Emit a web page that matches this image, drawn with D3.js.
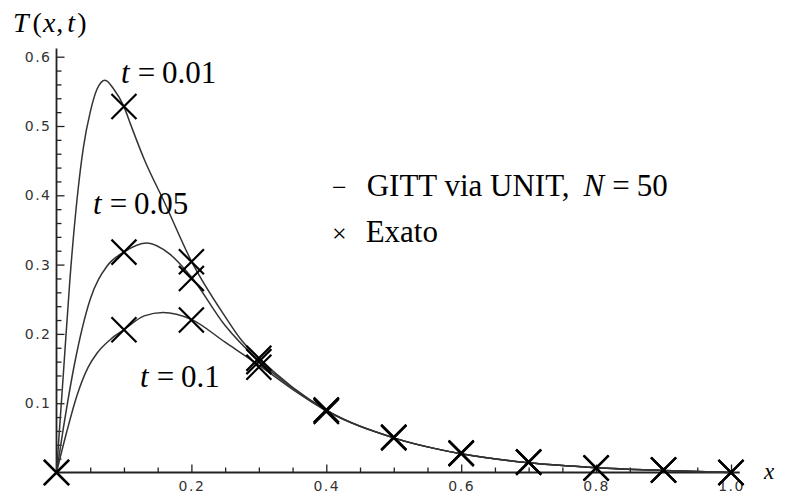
<!DOCTYPE html>
<html>
<head>
<meta charset="utf-8">
<script src="https://cdn.jsdelivr.net/npm/d3@7"></script>
<style>
body { margin: 0; background: #fff; }
.tick text { font-family: "DejaVu Sans", sans-serif; font-size: 14px; fill: #333; letter-spacing: 1.5px; }
.serif { font-family: "Liberation Serif", "Times New Roman", serif; fill: #000; }
</style>
</head>
<body>
<div id="chart"></div>
<script>
const width = 791,
    height = 500

// curves from GITT via UNIT (N = 50)
var curveX001 = [0, 0.01, 0.02, 0.03, 0.04, 0.05, 0.06, 0.072, 0.085, 0.1, 0.11, 0.13, 0.16, 0.2, 0.25, 0.275, 0.3, 0.35, 0.4, 0.5, 0.6, 0.7, 0.8, 0.9, 1.0]
var curveT001 = [0, 0.14, 0.28, 0.39, 0.47, 0.52, 0.553, 0.566, 0.553, 0.528, 0.502, 0.452, 0.39, 0.305, 0.225, 0.19, 0.165, 0.123, 0.09, 0.05, 0.027, 0.014, 0.007, 0.003, 0]

var curveX005 = [0, 0.01, 0.027, 0.05, 0.075, 0.1, 0.134, 0.168, 0.2, 0.25, 0.3, 0.35, 0.4, 0.5, 0.6, 0.7, 0.8, 0.9, 1.0]
var curveT005 = [0, 0.063, 0.158, 0.25, 0.298, 0.318, 0.331, 0.315, 0.282, 0.212, 0.161, 0.122, 0.09, 0.05, 0.027, 0.014, 0.007, 0.003, 0]

var curveX01 = [0, 0.015, 0.03, 0.047, 0.06, 0.08, 0.1, 0.13, 0.158, 0.2, 0.25, 0.3, 0.35, 0.4, 0.5, 0.6, 0.7, 0.8, 0.9, 1.0]
var curveT01 = [0, 0.058, 0.11, 0.152, 0.172, 0.192, 0.206, 0.226, 0.231, 0.221, 0.188, 0.155, 0.12, 0.089, 0.05, 0.027, 0.014, 0.007, 0.003, 0]

// exact solution at x = 0, 0.1, ..., 1.0
var exactX = [0, 0.1, 0.2, 0.3, 0.4, 0.5, 0.6, 0.7, 0.8, 0.9, 1.0]
var exactT001 = [0, 0.528, 0.304, 0.165, 0.09, 0.051, 0.028, 0.015, 0.0065, 0.0035, 0]
var exactT005 = [0, 0.318, 0.28, 0.16, 0.09, 0.051, 0.028, 0.015, 0.0065, 0.0035, 0]
var exactT01 = [0, 0.206, 0.22, 0.152, 0.088, 0.05, 0.027, 0.015, 0.0065, 0.0035, 0]

var xMajor = [0.2, 0.4, 0.6, 0.8, 1.0]
var xTickLabels = ["0.2", "0.4", "0.6", "0.8", "1.0"]
var yMajor = [0.1, 0.2, 0.3, 0.4, 0.5, 0.6]
var yTickLabels = ["0.1", "0.2", "0.3", "0.4", "0.5", "0.6"]

var svg = d3.select("#chart")
    .append("svg")
    .attr("width", width)
    .attr("height", height)

var x = d3.scaleLinear().domain([0, 1]).range([56.5, 731])
var y = d3.scaleLinear().domain([0, 0.6]).range([472.5, 56.7])

// minor ticks
var xMinor = d3.range(1, 21).map(i => i * 0.05).filter(v => xMajor.every(m => Math.abs(m - v) > 1e-6))
var yMinor = d3.range(1, 31).map(i => i * 0.02).filter(v => yMajor.every(m => Math.abs(m - v) > 1e-6))

svg.append("g")
    .attr("transform", `translate(0,${y(0)})`)
    .call(d3.axisBottom(x).tickValues(xMinor).tickSizeInner(-5).tickSizeOuter(0).tickFormat(""))
    .call(g => g.select(".domain").remove())
    .call(g => g.selectAll("line").attr("stroke", "#222").attr("stroke-width", 1.3))

svg.append("g")
    .attr("transform", `translate(0,${y(0)})`)
    .call(d3.axisBottom(x).tickValues(xMajor).tickSizeInner(-8).tickSizeOuter(0).tickPadding(9)
        .tickFormat((d, i) => xTickLabels[i]))
    .call(g => g.select(".domain").remove())
    .call(g => g.selectAll("line").attr("stroke", "#222").attr("stroke-width", 1.3))

svg.append("g")
    .attr("transform", `translate(${x(0)},0)`)
    .call(d3.axisLeft(y).tickValues(yMinor).tickSizeInner(-5).tickSizeOuter(0).tickFormat(""))
    .call(g => g.select(".domain").remove())
    .call(g => g.selectAll("line").attr("stroke", "#222").attr("stroke-width", 1.3))

svg.append("g")
    .attr("transform", `translate(${x(0)},0)`)
    .call(d3.axisLeft(y).tickValues(yMajor).tickSizeInner(-8).tickSizeOuter(0).tickPadding(5)
        .tickFormat((d, i) => yTickLabels[i]))
    .call(g => g.select(".domain").remove())
    .call(g => g.selectAll("line").attr("stroke", "#222").attr("stroke-width", 1.3))

// axis lines
svg.append("line")
    .attr("x1", x(0)).attr("x2", x(1.013))
    .attr("y1", y(0)).attr("y2", y(0))
    .attr("stroke", "#222").attr("stroke-width", 1.8)
svg.append("line")
    .attr("x1", x(0)).attr("x2", x(0))
    .attr("y1", y(0)).attr("y2", y(0.612))
    .attr("stroke", "#222").attr("stroke-width", 1.8)

// curves
var line = d3.line()
    .x(d => x(d[0]))
    .y(d => y(d[1]))
    .curve(d3.curveMonotoneX)

var curves = [
    d3.zip(curveX001, curveT001),
    d3.zip(curveX005, curveT005),
    d3.zip(curveX01, curveT01)
]

svg.append("g")
    .selectAll("path")
    .data(curves)
    .enter()
    .append("path")
    .attr("d", line)
    .attr("fill", "none")
    .attr("stroke", "#333")
    .attr("stroke-width", 1.5)

// exact markers
var exact = [exactT001, exactT005, exactT01]
    .flatMap(vals => vals.map((v, i) => [exactX[i], v]))

svg.append("g")
    .selectAll("path")
    .data(exact)
    .enter()
    .append("path")
    .attr("transform", d => `translate(${x(d[0])},${y(d[1])})`)
    .attr("d", "M-12.5,-12.5L12.5,12.5M-12.5,12.5L12.5,-12.5")
    .attr("stroke", "#000")
    .attr("stroke-width", 2.2)

// axis titles
var tl = svg.append("text").attr("class", "serif").attr("x", 13).attr("y", 32).attr("font-size", 28)
tl.append("tspan").attr("font-style", "italic").text("T")
tl.append("tspan").attr("dx", 4).text("(")
tl.append("tspan").attr("dx", 1).attr("font-style", "italic").text("x")
tl.append("tspan").attr("dx", 1).text(",")
tl.append("tspan").attr("dx", 4).attr("font-style", "italic").text("t")
tl.append("tspan").attr("dx", 2).text(")")

svg.append("text").attr("class", "serif")
    .attr("x", 764).attr("y", 479)
    .attr("font-size", 23).attr("font-style", "italic")
    .text("x")

// time labels
var timeLabels = [
    { t: "0.01", x: 121, y: 83 },
    { t: "0.05", x: 93, y: 214 },
    { t: "0.1", x: 140, y: 387 }
]
timeLabels.forEach(d => {
    var txt = svg.append("text").attr("class", "serif")
        .attr("x", d.x).attr("y", d.y).attr("font-size", 31)
    txt.append("tspan").attr("font-style", "italic").text("t")
    txt.append("tspan").attr("dx", 8).text("=")
    txt.append("tspan").attr("dx", 7).text(d.t)
})

// legend
var lg1 = svg.append("text").attr("class", "serif").attr("x", 332).attr("y", 196).attr("font-size", 31)
lg1.append("tspan").attr("font-size", 26).text("\u2212")
lg1.append("tspan").attr("dx", 20).text("GITT via UNIT,")
lg1.append("tspan").attr("dx", 14).attr("font-style", "italic").text("N")
lg1.append("tspan").attr("dx", 8).text("=")
lg1.append("tspan").attr("dx", 7).text("50")

var lg2 = svg.append("text").attr("class", "serif").attr("x", 332).attr("y", 242).attr("font-size", 31)
lg2.append("tspan").attr("font-size", 26).text("\u00d7")
lg2.append("tspan").attr("dx", 19).text("Exato")
</script>
</body>
</html>
